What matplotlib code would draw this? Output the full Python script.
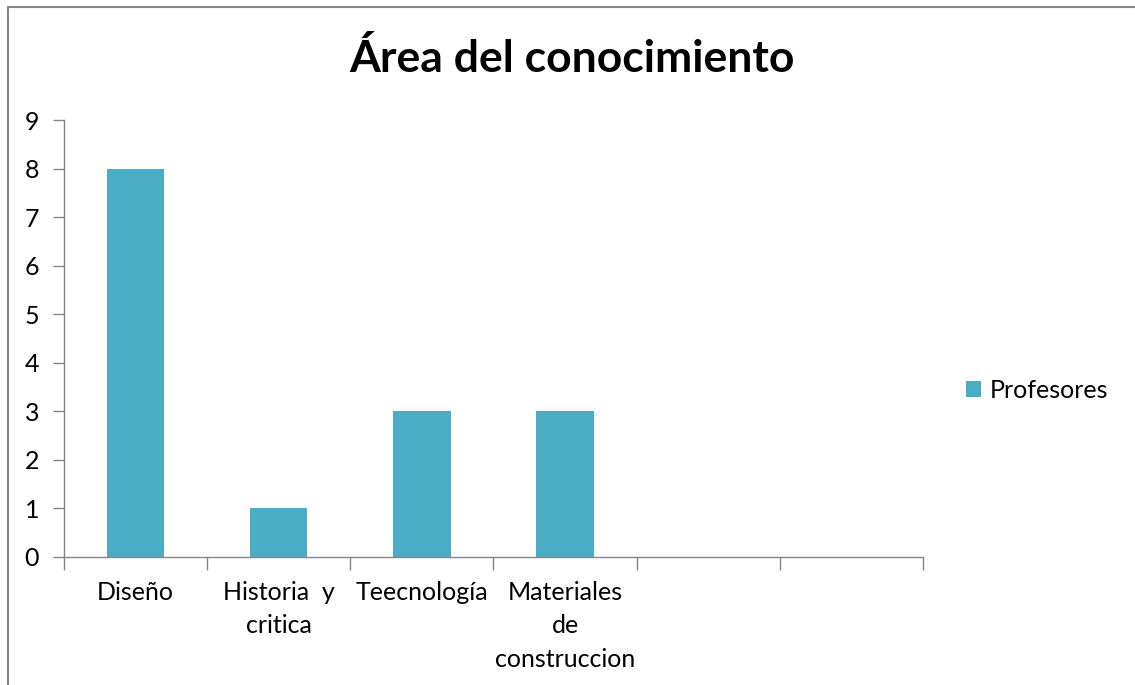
import numpy as np
import matplotlib.pyplot as plt
from matplotlib.patches import Rectangle

# data
categorias = ["Diseño", "Historia  y\ncritica", "Teecnología", "Materiales\nde\nconstruccion", "", ""]
profesores = [8, 1, 3, 3, None, None]
serie = "Profesores"
titulo = "Área del conocimiento"

color_barra = "#4BACC6"
color_eje = "#868686"

plt.rcParams['font.family'] = ['Lato', 'DejaVu Sans']

fig = plt.figure(figsize=(11.35, 6.85), dpi=100)
ax = fig.add_axes([64 / 1135, 1 - 557 / 685, (923 - 64) / 1135, (557 - 120) / 685])

# outer chart frame (cut off at right and bottom)
fig.patches.append(Rectangle((8 / 1135, -0.1), 1.2, 1 - 7 / 685 + 0.1,
                             transform=fig.transFigure, fill=False,
                             edgecolor=color_eje, linewidth=1.5))

x = np.arange(len(categorias))
vals = [v if v is not None else 0 for v in profesores]
bars = ax.bar(x[:4], vals[:4], width=0.4, color=color_barra, label=serie)

ax.set_xlim(-0.5, len(categorias) - 0.5)
ax.set_ylim(0, 9)
ax.set_yticks(range(0, 10))
ax.tick_params(axis='y', labelsize=18, length=8, width=1, color=color_eje, pad=10)

# category ticks at borders, labels at centers
ax.set_xticks(np.arange(-0.5, len(categorias)), minor=False)
ax.set_xticklabels([])
ax.set_xticks(x, minor=True)
ax.set_xticklabels(categorias, minor=True, fontsize=18, linespacing=1.55)
ax.tick_params(axis='x', which='major', length=9, width=1, color=color_eje)
ax.tick_params(axis='x', which='minor', length=0, pad=17)
for lbl in ax.get_xticklabels(minor=True):
    lbl.set_verticalalignment('top')
    lbl.set_horizontalalignment('center')

for s in ['top', 'right']:
    ax.spines[s].set_visible(False)
for s in ['left', 'bottom']:
    ax.spines[s].set_color(color_eje)
    ax.spines[s].set_linewidth(1)

fig.text(572 / 1135, 1 - 58 / 685, titulo, fontsize=32, fontweight='bold',
         ha='center', va='center')

leg = fig.legend(handles=[bars], labels=[serie], loc='center left',
                 bbox_to_anchor=(943 / 1135, 1 - 390 / 685), frameon=False,
                 fontsize=18, handlelength=0.6, handleheight=0.6,
                 handletextpad=0.35)

fig.savefig("out.png", dpi=100)
